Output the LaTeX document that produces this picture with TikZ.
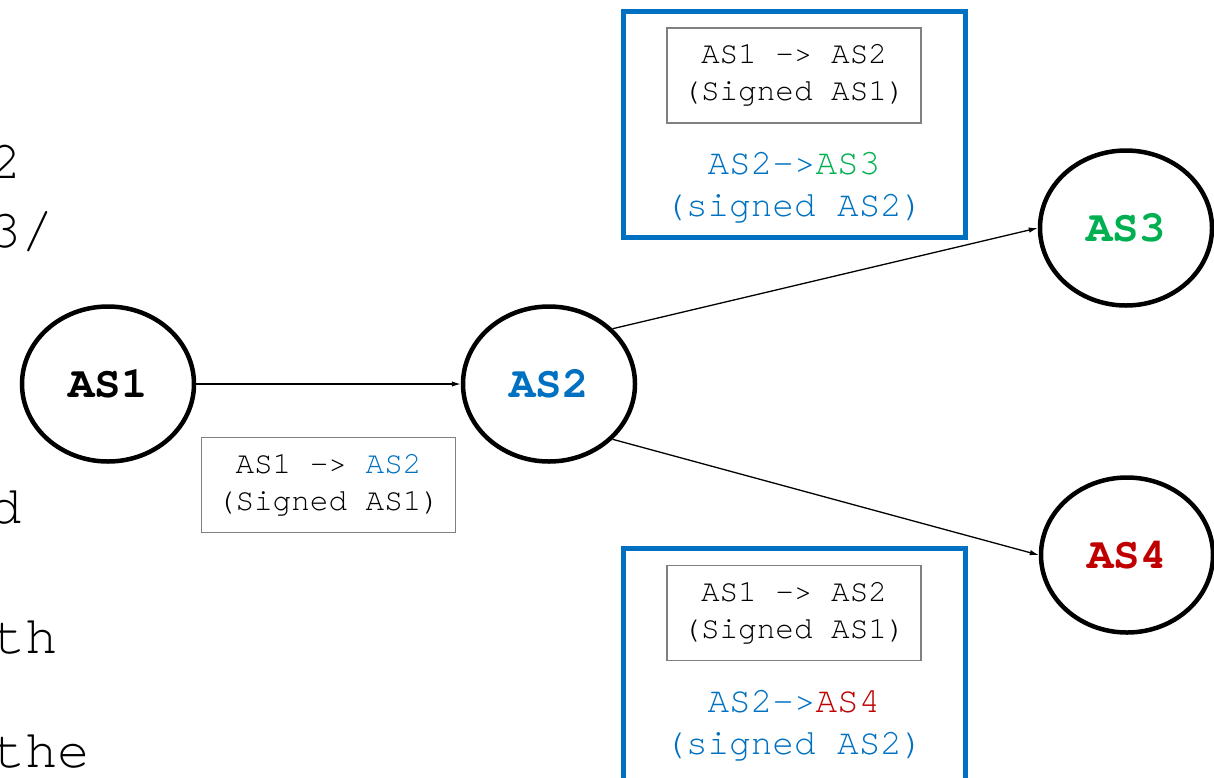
\documentclass[tikz,border=0pt]{standalone}
\usepackage{fontspec}
\setmainfont{texgyrecursor}[Extension=.otf,UprightFont=*-regular,BoldFont=*-bold]
\usetikzlibrary{shapes.geometric,arrows.meta}
\definecolor{asblue}{HTML}{0070C0}
\definecolor{asgreen}{HTML}{00B050}
\definecolor{asred}{HTML}{C00000}
\definecolor{boxgray}{HTML}{808080}

\begin{document}
\begin{tikzpicture}[x=1pt,y=-1pt,
  asnode/.style={ellipse,draw,line width=4.5pt,minimum width=172pt,minimum height=155pt,
    inner sep=0pt,font=\fontsize{44}{50}\selectfont\bfseries},
  pathbox/.style={draw=boxgray,line width=1.5pt,minimum width=254pt,minimum height=95pt,
    inner sep=0pt,align=center,font=\fontsize{31}{37}\selectfont},
  signbox/.style={draw=asblue,line width=5pt,minimum width=342pt,inner sep=0pt},
  signtext/.style={align=center,inner sep=0pt,text=asblue,font=\fontsize{36}{42}\selectfont},
  edgetext/.style={anchor=base west,inner sep=0pt,font=\fontsize{54}{64}\selectfont},
  link/.style={line width=1.3pt,-{Latex[length=9pt,width=5.5pt]}}]

\useasboundingbox (0,0) rectangle (1214,777);
\clip (0,0) rectangle (1214,777);

% text running in from the left margin
\node[edgetext] (t1) at (-11,178) {2};
\node[edgetext] (t2) at (-11,247) {3/};
\node[edgetext] (t3) at (-11,523) {d};
\node[edgetext] (t4) at (-7,653) {th};
\node[edgetext] (t5) at (-7,767) {the};

% autonomous systems
\node[asnode] (as1) at (108,384) {AS1};
\node[asnode,text=asblue] (as2) at (549,384) {AS2};
\node[asnode,text=asgreen] (as3) at (1126,228) {AS3};
\node[asnode,text=asred] (as4) at (1127,555) {AS4};

% announcements
\draw[link] (as1.east) -- (as2.west);
\draw[link] (as2.41) -- (as3.west);
\draw[link] (as2.-41) -- (as4.west);

% route signed by AS1
\node[pathbox] (p12) at (328.5,485) {AS1 -> \textcolor{asblue}{AS2}\\(Signed AS1)};

% route towards AS3, signed by AS2
\node[signbox,minimum height=226pt] (s3) at (794.5,124.5) {};
\node[pathbox] (p12a) at (794,75.5) {AS1 -> AS2\\(Signed AS1)};
\node[signtext] (s23) at (794,188) {AS2->\textcolor{asgreen}{AS3}\\(signed AS2)};

% route towards AS4, signed by AS2
\node[signbox,minimum height=260pt] (s4) at (794.5,678.5) {};
\node[pathbox] (p12b) at (794,613) {AS1 -> AS2\\(Signed AS1)};
\node[signtext] (s24) at (794,725.5) {AS2->\textcolor{asred}{AS4}\\(signed AS2)};
\end{tikzpicture}
\end{document}
